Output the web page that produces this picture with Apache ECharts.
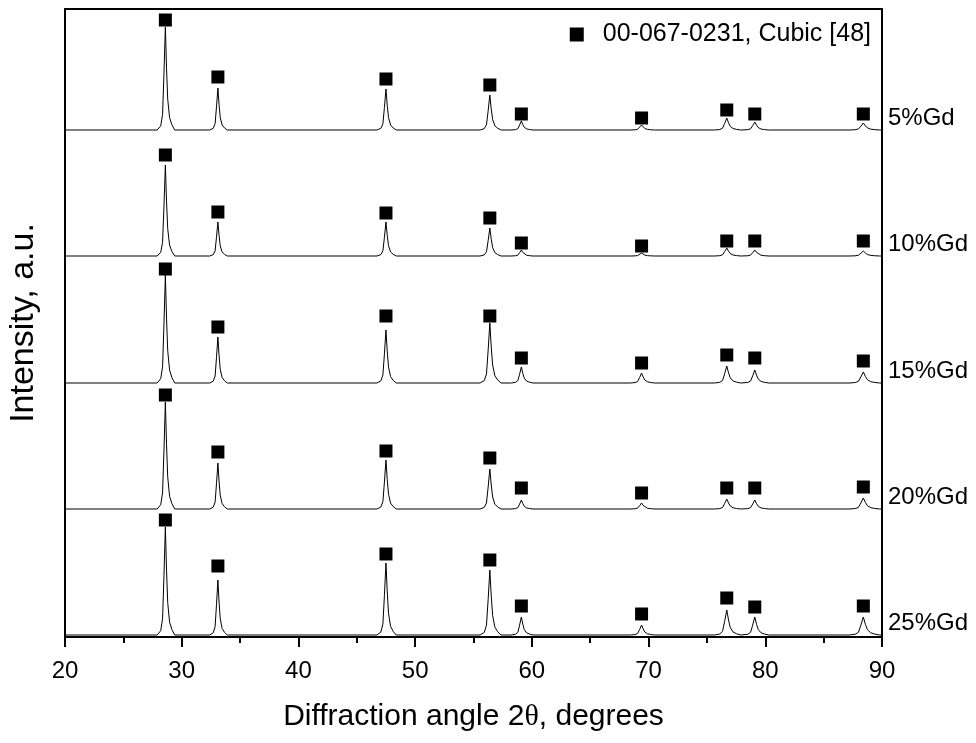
<!DOCTYPE html>
<html>
<head>
<meta charset="utf-8">
<script src="https://cdn.jsdelivr.net/npm/echarts@6/dist/echarts.min.js"></script>
<style>
  html, body { margin: 0; padding: 0; background: #fff; }
  #xrd { width: 976px; height: 743px; }
</style>
</head>
<body>
<div id="xrd"></div>
<script>
// reflection positions (2theta, deg) of the cubic phase
const peakPos = [28.6, 33.1, 47.5, 56.4, 59.1, 69.4, 76.7, 79.1, 88.4]
const peakWidth = [0.2, 0.2, 0.22, 0.24, 0.25, 0.28, 0.3, 0.3, 0.35]
// shape of one reflection (dx in widths, fraction of height)
const profDx = [-3.5, -2, -1.2, -0.6, 0, 0.5, 1.0, 1.8, 2.8, 4]
const profFrac = [0, 0.04, 0.15, 0.55, 1, 0.6, 0.3, 0.12, 0.05, 0]

const samples = ['5%Gd', '10%Gd', '15%Gd', '20%Gd', '25%Gd']
// stacked offset of each pattern (a.u.)
const baseline = [507, 381, 254, 128, 2]
// peak heights above baseline
const h5 = [103, 42, 41, 35, 9, 5, 12, 8, 7]
const h10 = [91, 34, 34, 28, 6, 3, 8, 6, 5]
const h15 = [108, 46, 53, 60, 16, 10, 17, 13, 11]
const h20 = [107, 46, 49, 40, 9, 6, 10, 9, 11]
const h25 = [108, 55, 72, 65, 18, 10, 25, 18, 18]
// square markers (PDF 00-067-0231) heights
const m5 = [617, 560, 558, 552, 523, 519, 527, 523, 523]
const m10 = [482, 425, 424, 419, 394, 391, 396, 396, 396]
const m15 = [368, 310, 321, 321, 279, 274, 282, 279, 276]
const m20 = [242, 185, 186, 179, 149, 144, 149, 149, 150]
const m25 = [117, 71, 83, 77, 31, 23, 39, 30, 31]

const heights = [h5, h10, h15, h20, h25]
const markers = [m5, m10, m15, m20, m25]

function buildPattern(base, h) {
  var pts = [[20, base]]
  peakPos.forEach(function (p, i) {
    profDx.forEach(function (d, k) {
      pts.push([+(p + d * peakWidth[i]).toFixed(3), base + h[i] * profFrac[k]])
    })
  })
  pts.push([90, base])
  return pts
}

var series = samples.map(function (name, s) {
  return {
    name: name,
    type: 'line',
    data: buildPattern(baseline[s], heights[s]),
    showSymbol: false,
    symbol: 'none',
    lineStyle: { color: '#000', width: 1 },
    endLabel: {
      show: true,
      formatter: name,
      color: '#000',
      fontFamily: 'Liberation Sans',
      fontSize: 24,
      distance: 6,
      offset: [0, -12]
    },
    z: 2
  }
})

var markerData = []
markers.forEach(function (m) {
  m.forEach(function (v, i) {
    markerData.push([peakPos[i], v])
  })
})

series.push({
  name: '00-067-0231, Cubic [48]',
  type: 'scatter',
  symbol: 'rect',
  symbolSize: 13,
  itemStyle: { color: '#000', opacity: 1 },
  data: markerData,
  z: 3
})

const chart = echarts.init(document.getElementById('xrd'))
const option = {
  backgroundColor: '#fff',
  animation: false,
  grid: {
    left: 65,
    right: 94,
    top: 9,
    bottom: 106,
    outerBoundsMode: 'none',
    show: true,
    borderColor: '#000',
    borderWidth: 2
  },
  legend: {
    data: ['00-067-0231, Cubic [48]'],
    right: 105,
    top: 22,
    padding: 0,
    icon: 'rect',
    itemWidth: 14,
    itemHeight: 14,
    itemStyle: { opacity: 1 },
    textStyle: {
      color: '#000',
      fontFamily: 'Liberation Sans',
      fontSize: 25,
      padding: [0, 0, 0, 14]
    }
  },
  xAxis: {
    type: 'value',
    min: 20,
    max: 90,
    interval: 10,
    name: '{a|Diffraction angle 2}{t|θ}{a|, degrees}',
    nameLocation: 'middle',
    nameGap: 65,
    nameTextStyle: {
      rich: {
        a: { fontFamily: 'Liberation Sans', fontSize: 30, color: '#000' },
        t: { fontFamily: 'Liberation Serif', fontSize: 30, color: '#000' }
      }
    },
    axisLine: { lineStyle: { color: '#000', width: 2 } },
    axisTick: { inside: false, length: 10, lineStyle: { color: '#000', width: 2 } },
    minorTick: { show: true, splitNumber: 2, length: 6, lineStyle: { color: '#000', width: 2 } },
    axisLabel: { color: '#000', fontFamily: 'Liberation Sans', fontSize: 24, margin: 22 },
    splitLine: { show: false }
  },
  yAxis: {
    type: 'value',
    min: 0,
    max: 628,
    name: 'Intensity, a.u.',
    nameLocation: 'middle',
    nameGap: 24,
    nameTextStyle: { color: '#000', fontFamily: 'Liberation Sans', fontSize: 34 },
    axisLine: { show: true, lineStyle: { color: '#000', width: 2 } },
    axisTick: { show: false },
    axisLabel: { show: false },
    splitLine: { show: false }
  },
  series: series
}
chart.setOption(option)
</script>
</body>
</html>
